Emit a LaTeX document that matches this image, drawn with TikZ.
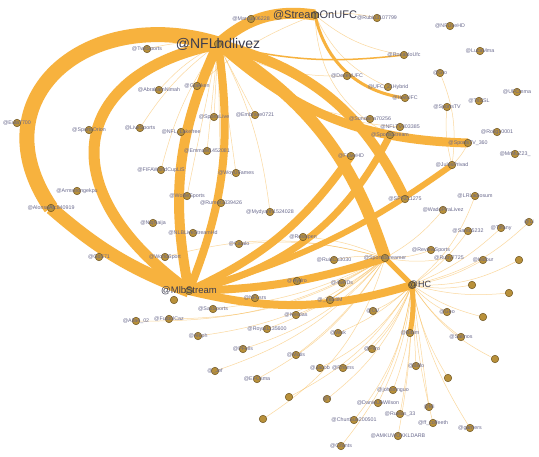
\documentclass[tikz,border=0pt]{standalone}
\usepackage{fontspec}
\setmainfont{Liberation Sans}
\usetikzlibrary{positioning}
\definecolor{edgeorange}{HTML}{F7B23E}
\definecolor{nodegold}{HTML}{B8903A}
\definecolor{nodeedge}{HTML}{6E5420}
\definecolor{tagblue}{HTML}{68688C}
\definecolor{hubtext}{HTML}{3C3C4E}
\pgfdeclarelayer{edges}
\pgfsetlayers{edges,main}

\begin{document}
\begin{tikzpicture}[x=1pt,y=-1pt,
        every node/.style={inner sep=0pt},
        dot/.style={circle,fill=nodegold,draw=nodeedge,line width=0.5pt,minimum size=7.5pt},
        tag/.style={font=\fontsize{5.3}{6}\selectfont,text=tagblue},
        bigtag/.style={font=\fontsize{#1}{#1}\selectfont,text=hubtext},
        band/.style={draw=edgeorange,line width=#1},
        wisp/.style={draw=edgeorange,line width=0.5pt,opacity=0.5}]

    \useasboundingbox (0,0) rectangle (539,457);

    % the four big accounts
    \node[dot,label={[bigtag=14]center:@NFLhdlivez}] (nfl) at (218,44) {};
    \node[dot,label={[bigtag=11]center:@StreamOnUFC}] (ufc) at (315,15) {};
    \node[dot,label={[bigtag=9.5]center:@MlbStream}] (mlb) at (189,291) {};
    \node[dot,label={[bigtag=9,xshift=8pt]center:@HC}] (hc) at (412,285) {};

    % top
    \node[dot,label={[tag]center:@Marcus06228}] (marcus) at (251,19) {};
    \node[dot,label={[tag]center:@Rubio3107799}] (rubio) at (377,18) {};
    \node[dot,label={[tag]center:@NFLiveHD}] (nflive) at (450,26) {};
    \node[dot,label={[tag]center:@TwitSports}] (twit) at (147,49) {};
    \node[dot,label={[tag]center:@LucaMma}] (luca) at (480,51) {};
    \node[dot,label={[tag]center:@RonaldoUfc}] (ronaldo) at (404,55) {};
    \node[dot,label={[tag]center:@DesertUFC}] (desert) at (347,76) {};
    \node[dot,label={[tag]center:@Gto}] (gto) at (440,73) {};
    \node[dot,label={[tag]center:@AbrahamNimah}] (abraham) at (159,90) {};
    \node[dot,label={[tag]center:@Gtakken}] (gtakken) at (197,86) {};
    \node[dot,label={[tag]center:@UFC\_21Hybrid}] (hybrid) at (388,87) {};
    \node[dot,label={[tag]center:@HwtUFC}] (hwufc) at (405,98) {};
    \node[dot,label={[tag]center:@UFCmma}] (ufcmma) at (517,92) {};
    \node[dot,label={[tag]center:@TriSSL}] (trissl) at (479,101) {};
    \node[dot,label={[tag]center:@SportsTV}] (sportstv) at (447,107) {};

    % upper middle
    \node[dot,label={[tag]center:@Eula7700}] (eula) at (17,123) {};
    \node[dot,label={[tag]center:@SportsOrion}] (orion) at (89,130) {};
    \node[dot,label={[tag]center:@LiveSports}] (livesp) at (140,128) {};
    \node[dot,label={[tag]center:@NFL\_Lakefree}] (lakefree) at (181,132) {};
    \node[dot,label={[tag]center:@SportsLive}] (sportslive) at (214,117) {};
    \node[dot,label={[tag]center:@Embrace0721}] (embrace) at (255,115) {};
    \node[dot,label={[tag]center:@Sundarra70256}] (sundar) at (370,119) {};
    \node[dot,label={[tag]center:@NFLTV403385}] (nfltv) at (400,127) {};
    \node[dot,label={[tag]center:@SportsStream}] (sstream) at (390,135) {};
    \node[dot,label={[tag]center:@Rolig10001}] (rolig) at (497,132) {};
    \node[dot,label={[tag]center:@SportsTV\_360}] (tv360) at (468,143) {};
    \node[dot,label={[tag]center:@EmmaM1452081}] (emma) at (207,151) {};
    \node[dot,label={[tag]center:@FLiveHD}] (flive) at (351,156) {};
    \node[dot,label={[tag]center:@MrMuZ23\_}] (mrmu) at (515,154) {};
    \node[dot,label={[tag]center:@JulesPrivad}] (jules) at (452,165) {};

    % middle
    \node[dot,label={[tag]center:@FIFAWorldCupLiS}] (fifa) at (161,170) {};
    \node[dot,label={[tag]center:@WoyUFames}] (woy) at (236,173) {};
    \node[dot,label={[tag]center:@Armstrongekpu}] (armstrong) at (77,191) {};
    \node[dot,label={[tag]center:@AlonsoAfc840919}] (alonso) at (51,208) {};
    \node[dot,label={[tag]center:@WolfieSports}] (wolfie) at (187,196) {};
    \node[dot,label={[tag]center:@Rumor3339426}] (rumor) at (221,203) {};
    \node[dot,label={[tag]center:@SPFZ11275}] (spfz) at (405,199) {};
    \node[dot,label={[tag]center:@LRLadiosum}] (ladio) at (475,196) {};
    \node[dot,label={[tag]center:@Mydyanh1524028}] (mydy) at (270,212) {};
    \node[dot,label={[tag]center:@WadoPiraLivez}] (wado) at (443,210) {};
    \node[dot,label={[tag]center:@Li}] (lihd) at (529,222) {};
    \node[dot,label={[tag]center:@NiqNaija}] (naija) at (153,223) {};
    \node[dot,label={[tag]center:@NLBLiveStreamHd}] (nlbl) at (193,233) {};
    \node[dot,label={[tag]center:@Santo5232}] (santo) at (468,231) {};
    \node[dot,label={[tag]center:@Tiffany}] (tiff) at (501,228) {};
    \node[dot,label={[tag]center:@Catalo}] (catalo) at (239,244) {};
    \node[dot,label={[tag]center:@Rossipen}] (rossi) at (303,237) {};
    \node[dot,label={[tag]center:@ReviewSports}] (review) at (431,250) {};
    \node[dot,label={[tag]center:@GoS71}] (gos) at (99,257) {};
    \node[dot,label={[tag]center:@WorldSport}] (world) at (165,257) {};
    \node[dot,label={[tag]center:@Ruby7725}] (ruby) at (449,258) {};
    \node[dot,label={[tag]center:@Hidbur}] (hidbur) at (483,260) {};
    \node[dot] (lone1) at (519,260) {};
    \node[dot,label={[tag]center:@RuizCo3030}] (ruiz) at (334,260) {};
    \node[dot,label={[tag]center:@SportsStreamer}] (hub) at (385,258) {};
    \node[dot,label={[tag]center:@Hydro}] (hydro) at (297,281) {};
    \node[dot,label={[tag]center:@4wPDs}] (fourw) at (342,283) {};
    \node[dot] (lone2) at (472,285) {};
    \node[dot] (lone3) at (509,293) {};

    % lower part
    \node[dot,label={[tag]center:@\_YeS8M}] (yes) at (330,300) {};
    \node[dot] (lone4) at (174,300) {};
    \node[dot,label={[tag]center:@NFLsrs}] (nflsrs) at (255,298) {};
    \node[dot,label={[tag]center:@SaxSports}] (sax) at (213,309) {};
    \node[dot,label={[tag]center:@Alfa4\_02}] (alfa) at (136,321) {};
    \node[dot,label={[tag]center:@FutbolCaz}] (futbol) at (169,319) {};
    \node[dot,label={[tag]center:@Aleph}] (aleph) at (198,336) {};
    \node[dot,label={[tag]center:@Royal1135600}] (royal) at (267,329) {};
    \node[dot,label={[tag]center:@PFells}] (pfells) at (243,349) {};
    \node[dot,label={[tag]center:@\_Jef}] (jef) at (215,371) {};
    \node[dot,label={[tag]center:@EFOsma}] (efo) at (257,379) {};
    \node[dot] (lone5) at (263,419) {};
    \node[dot,label={[tag]center:@OV}] (ov) at (373,311) {};
    \node[dot,label={[tag]center:@Geo}] (geo) at (447,312) {};
    \node[dot] (lone6) at (483,317) {};
    \node[dot,label={[tag]center:@Kesdas}] (kesdas) at (296,315) {};
    \node[dot,label={[tag]center:@Wok}] (wok) at (338,333) {};
    \node[dot,label={[tag]center:@Bibim}] (bibim) at (410,333) {};
    \node[dot,label={[tag]center:@Salmos}] (salmos) at (461,337) {};
    \node[dot,label={[tag]center:@Mutis}] (mutis) at (296,355) {};
    \node[dot,label={[tag]center:@Piiro}] (piiro) at (372,349) {};
    \node[dot] (lone7) at (495,359) {};
    \node[dot,label={[tag]center:@Jacob}] (jacob) at (320,368) {};
    \node[dot,label={[tag]center:@Rhsms}] (rhsms) at (343,368) {};
    \node[dot,label={[tag]center:@Biffo}] (biffo) at (416,366) {};
    \node[dot] (lone8) at (448,378) {};
    \node[dot] (lone9) at (289,397) {};
    \node[dot,label={[tag]center:@Y}] (yy) at (327,399) {};
    \node[dot,label={[tag]center:@johnmnguo}] (john) at (393,390) {};
    \node[dot,label={[tag]center:@DanielJAWilson}] (daniel) at (378,403) {};
    \node[dot,label={[tag]center:@Mi}] (mi) at (429,407) {};
    \node[dot,label={[tag]center:@Ruelas\_33}] (ruelas) at (400,414) {};
    \node[dot,label={[tag]center:@ChunSun200501}] (chun) at (354,420) {};
    \node[dot,label={[tag]center:@ff\_coffeeth}] (coffee) at (433,423) {};
    \node[dot,label={[tag]center:@garrters}] (garr) at (470,428) {};
    \node[dot,label={[tag]center:@AMKUWOKKLDARB}] (amku) at (398,436) {};
    \node[dot,label={[tag]center:@Cifants}] (cifants) at (341,446) {};

    \begin{pgfonlayer}{edges}
    \fill[white] (0,0) rectangle (539,457);

    % heavy traffic
    \draw[band=15] (nfl.center) .. controls +(-130,-40) and +(-75,-110) .. (alonso.center);
    \draw[band=11] (nfl.center) .. controls +(-150,30) and +(-140,-100) .. (mlb.center);
    \draw[band=13] (alonso.center) to[bend right=10] (mlb.center);
    \draw[band=10] (nfl.center) to[bend right=18] (mlb.center);
    \draw[band=8] (nfl.center) to[bend left=15] (mlb.center);
    \draw[band=11] (ufc.center) to[bend right=25] (nfl.center);
    \draw[band=12] (nfl.center) to[bend left=20] (hub.center);
    \draw[band=10] (nfl.center) to[bend left=25] (spfz.center);
    \draw[band=9] (nfl.center) to[bend right=20] (tv360.center);
    \draw[band=8] (mlb.center) to[bend right=15] (hc.center);
    \draw[band=8] (mlb.center) to[bend right=8] (hub.center);
    \draw[band=8] (mlb.center) to[bend right=15] (flive.center);
    \draw[band=7] (mlb.center) to[bend right=25] (sstream.center);
    \draw[band=6] (mlb.center) to[bend right=10] (jules.center);
    \draw[band=5] (hub.center) to (hc.center);
    \draw[band=5] (hc.center) to[bend left=8] (bibim.center);
    \draw[band=3] (ufc.center) to[bend right=35] (hwufc.center);
    \draw[band=1.5] (nfl.center) to[bend right=10] (ronaldo.center);

    % light traffic
    \path[wisp] (nfl.center) edge[bend left=10] (marcus.center)
                edge[bend right=10] (twit.center)
                edge[bend right=10] (abraham.center)
                edge (gtakken.center)
                edge[bend right=10] (livesp.center)
                edge (lakefree.center)
                edge (sportslive.center)
                edge (embrace.center)
                edge (emma.center)
                edge[bend right=10] (fifa.center)
                edge (woy.center)
                edge (wolfie.center)
                edge (rumor.center)
                edge[bend right=15] (desert.center)
                edge[bend left=10] (mydy.center)
                edge[bend right=20] (sundar.center)
                edge[bend right=20] (nfltv.center);
    \path[wisp] (ufc.center) edge[bend left=10] (rubio.center)
                edge[bend right=15] (ronaldo.center)
                edge[bend right=20] (hybrid.center)
                edge[bend right=30] (sstream.center)
                edge[bend right=10] (gtakken.center);
    \path[wisp] (jules.center) edge[bend right=15] (gto.center)
                edge[bend left=10] (sportstv.center)
                edge[bend right=10] (tv360.center);
    \path[wisp] (hub.center) edge[bend right=10] (ruiz.center)
                edge[bend right=10] (rossi.center)
                edge (hydro.center)
                edge (fourw.center)
                edge[bend right=10] (catalo.center)
                edge[bend right=15] (world.center)
                edge[bend left=10] (royal.center)
                edge[bend left=10] (sax.center)
                edge[bend left=15] (futbol.center)
                edge[bend left=15] (alfa.center)
                edge[bend left=15] (aleph.center)
                edge[bend left=15] (pfells.center)
                edge[bend left=15] (jef.center)
                edge[bend left=15] (efo.center)
                edge[bend left=20] (lone5.center)
                edge[bend left=10] (kesdas.center)
                edge[bend left=10] (mutis.center)
                edge (yes.center)
                edge[bend right=10] (review.center)
                edge[bend right=10] (ruby.center)
                edge[bend right=10] (wado.center);
    \path[wisp] (hc.center) edge[bend left=10] (ov.center)
                edge[bend right=10] (geo.center)
                edge[bend right=10] (lone6.center)
                edge[bend right=10] (salmos.center)
                edge[bend left=10] (piiro.center)
                edge[bend right=15] (lone7.center)
                edge (biffo.center)
                edge[bend right=10] (lone8.center)
                edge[bend left=10] (wok.center)
                edge[bend left=15] (jacob.center)
                edge[bend left=15] (rhsms.center)
                edge[bend left=15] (lone9.center)
                edge[bend left=15] (yy.center)
                edge[bend left=10] (john.center)
                edge[bend left=10] (daniel.center)
                edge (mi.center)
                edge[bend left=5] (ruelas.center)
                edge[bend left=15] (chun.center)
                edge[bend right=5] (coffee.center)
                edge[bend right=10] (garr.center)
                edge[bend left=5] (amku.center)
                edge[bend left=15] (cifants.center)
                edge[bend right=10] (lone2.center)
                edge[bend right=10] (lone3.center)
                edge[bend right=10] (hidbur.center)
                edge[bend right=10] (santo.center)
                edge[bend right=10] (tiff.center)
                edge[bend right=15] (ladio.center)
                edge[bend right=15] (lihd.center)
                edge[bend right=15] (lone1.center);
    \end{pgfonlayer}
\end{tikzpicture}
\end{document}
